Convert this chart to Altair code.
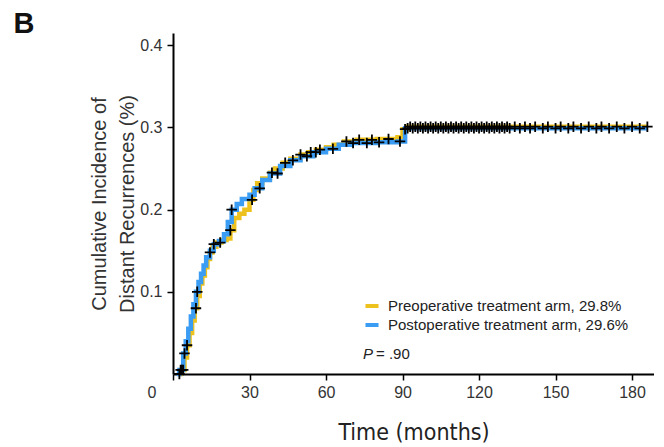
import altair as alt
import pandas as pd

# ---- data ----
arm_names = ["Preoperative treatment arm, 29.8%", "Postoperative treatment arm, 29.6%"]

pre_t = [2, 3, 4.5, 5.5, 6.5, 7.5, 8.5, 9.5, 10.5, 11.5, 12.5, 13.5, 14.5, 15.5, 17, 19, 21,
         22.5, 24, 26, 28, 30, 31.5, 33, 35, 38, 40, 43, 46, 50, 53, 56, 60, 63, 67, 72, 80,
         88, 90, 92, 186]
pre_y = [0, 0.005, 0.02, 0.035, 0.05, 0.065, 0.08, 0.095, 0.11, 0.12, 0.13, 0.14, 0.148,
         0.155, 0.16, 0.163, 0.165, 0.175, 0.19, 0.195, 0.2, 0.212, 0.224, 0.232, 0.238,
         0.245, 0.25, 0.257, 0.262, 0.267, 0.27, 0.273, 0.276, 0.279, 0.283, 0.285, 0.286,
         0.288, 0.298, 0.301, 0.301]

post_t = [1.5, 2.5, 4, 5, 6, 7, 8, 9, 10, 11, 12, 13, 14.5, 16, 18, 20, 21.5, 23, 25, 27,
          30, 32, 35, 38, 42, 46, 50, 55, 60, 65, 70, 80, 88, 91, 186]
post_y = [0, 0.005, 0.025, 0.04, 0.055, 0.07, 0.085, 0.1, 0.112, 0.122, 0.132, 0.142, 0.15,
          0.158, 0.162, 0.17, 0.185, 0.2, 0.207, 0.213, 0.218, 0.226, 0.236, 0.244, 0.253,
          0.26, 0.265, 0.27, 0.274, 0.279, 0.281, 0.282, 0.283, 0.299, 0.299]

pre_censor = [2.5, 3.5, 4, 5.5, 9, 14.5, 18.5, 22.5, 31, 38.8, 44, 50, 54, 57.6, 68, 73, 78,
              84.5, 91, 93, 95, 97, 99, 101, 103, 105, 107, 109, 111, 113, 115, 117, 119, 121,
              123, 125, 127, 129, 131, 134, 138, 142, 147, 152, 157, 163, 168, 174, 180, 186]
post_censor = [3, 4.5, 9.5, 16, 23, 34, 41, 47, 52.5, 56, 62.7, 70.6, 76, 80.8, 89, 92, 94,
               96, 98, 100, 102, 104, 106, 108, 110, 112, 114, 116, 118, 120, 122, 124, 126,
               128, 130, 132, 136, 140, 145, 150, 155, 160, 166, 171, 177, 183]

x_ticks = [0, 30, 60, 90, 120, 150, 180]
y_ticks = [0.1, 0.2, 0.3, 0.4]

colors = ["#EEC21E", "#3A9CF2"]

# ---- build tables ----
def step_value(ts, ys, t):
    v = ys[0]
    for tt, yy in zip(ts, ys):
        if tt <= t:
            v = yy
    return v

lines = pd.DataFrame(
    [{"t": t, "y": y, "arm": arm_names[0], "ord": 1} for t, y in zip(pre_t, pre_y)]
    + [{"t": t, "y": y, "arm": arm_names[1], "ord": 0} for t, y in zip(post_t, post_y)]
)
censor = pd.DataFrame(
    [{"t": t, "y": step_value(pre_t, pre_y, t)} for t in pre_censor]
    + [{"t": t, "y": step_value(post_t, post_y, t)} for t in post_censor]
)

W, H = 481, 341
xs = alt.Scale(domain=[0, 188.6], nice=False, zero=False)
ys = alt.Scale(domain=[0, 0.415], nice=False)

base_font = "Liberation Sans"

x_axis = alt.Axis(values=x_ticks, labelExpr="datum.value == 0 ? '' : datum.label",
                  title="Time (months)",
                  titleFont="DejaVu Sans Condensed, Liberation Sans",
                  titleFontSize=23, titleFontWeight="normal", titleColor="#222",
                  titlePadding=21, labelPadding=4, grid=False)
y_axis = alt.Axis(values=y_ticks, format=".1f",
                  title=["Cumulative Incidence of", "Distant Recurrences (%)"],
                  titleFontSize=20, titleFontWeight="normal", titleColor="#333",
                  titlePadding=2, titleLineHeight=28, labelPadding=5, grid=False)

lines_layer = alt.Chart(lines).mark_line(interpolate="step-after", strokeWidth=4.5).encode(
    x=alt.X("t:Q", scale=xs, axis=x_axis),
    y=alt.Y("y:Q", scale=ys, axis=y_axis),
    color=alt.Color("arm:N", scale=alt.Scale(domain=arm_names, range=colors),
                    legend=alt.Legend(orient="none", legendX=190, legendY=264, title=None,
                                      symbolType="stroke", symbolSize=170,
                                      symbolStrokeWidth=4, labelFontSize=15,
                                      labelColor="#222", labelFont=base_font,
                                      labelLimit=0, rowPadding=2, labelOffset=7,
                                      padding=0)),
    order=alt.Order("ord:Q"),
)

censor_layer = alt.Chart(censor).mark_point(
    shape="M-1,0L1,0M0,-1L0,1", filled=False, color="black", strokeWidth=1.8,
    size=110, opacity=1,
).encode(x=alt.X("t:Q", scale=xs), y=alt.Y("y:Q", scale=ys))

p_italic = alt.Chart(pd.DataFrame({"s": ["P"]})).mark_text(
    font=base_font, fontSize=15, fontStyle="italic", color="#222", align="left",
    baseline="middle").encode(x=alt.value(190), y=alt.value(321), text="s:N")
p_rest = alt.Chart(pd.DataFrame({"s": ["= .90"]})).mark_text(
    font=base_font, fontSize=15, color="#222", align="left",
    baseline="middle").encode(x=alt.value(203), y=alt.value(321), text="s:N")
zero_lbl = alt.Chart(pd.DataFrame({"s": ["0"]})).mark_text(
    font=base_font, fontSize=16, color="#333", align="center",
    baseline="middle").encode(x=alt.value(-21), y=alt.value(H + 19), text="s:N")
panel = alt.Chart(pd.DataFrame({"s": ["B"]})).mark_text(
    font=base_font, fontSize=29, fontWeight="bold", color="#111", align="center",
    baseline="middle").encode(x=alt.value(-149), y=alt.value(-9), text="s:N")

chart = alt.layer(lines_layer, censor_layer, p_italic, p_rest, zero_lbl, panel).properties(
    width=W, height=H,
    autosize=alt.AutoSizeParams(type="none"),
    padding={"left": 165, "top": 25, "right": 0, "bottom": 70},
    background="white",
).configure_view(stroke=None).configure_axis(
    domainColor="black", domainWidth=2, tickColor="black", tickWidth=1.5, tickSize=6,
    labelFont=base_font, labelFontSize=16, labelColor="#333", titleFont=base_font,
).configure_axisY(domainWidth=2)

chart.save("out.html", embed_options={"renderer": "svg", "actions": False})
